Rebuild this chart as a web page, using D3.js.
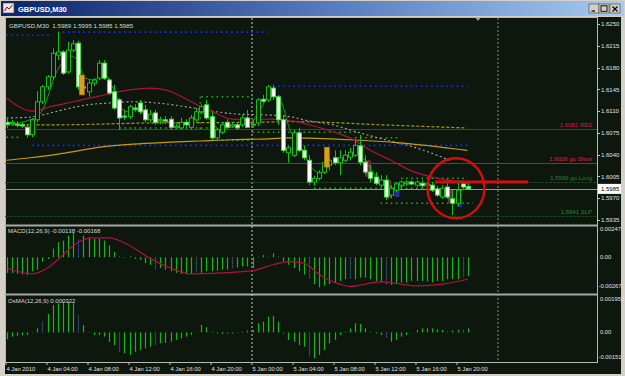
<!DOCTYPE html>
<html><head><meta charset="utf-8">
<script src="https://cdn.jsdelivr.net/npm/d3@7/dist/d3.min.js"></script>
<style>
body{margin:0;background:#d4d0c8;overflow:hidden}
svg{display:block;font-family:"Liberation Sans",Arial,sans-serif}
</style></head>
<body><svg id="c" width="625" height="376"></svg>
<script>
// ---------------- DATA ----------------
const timeLabels = ["4 Jan 2010","4 Jan 04:00","4 Jan 08:00","4 Jan 12:00","4 Jan 16:00","4 Jan 20:00",
  "5 Jan 00:00","5 Jan 04:00","5 Jan 08:00","5 Jan 12:00","5 Jan 16:00","5 Jan 20:00"];
const priceTicks = [1.6250,1.6215,1.6180,1.6145,1.6110,1.6075,1.6040,1.6005,1.5970,1.5935];
const opens = [1.6092,1.6091,1.6089,1.6088,1.6084,1.6072,1.6096,1.6125,1.6149,1.6165,
1.6200,1.6205,1.6173,1.6208,1.6219,1.6149,1.6141,1.6155,1.6163,1.6187,
1.6160,1.6141,1.6128,1.6102,1.6101,1.6115,1.6123,1.6112,1.6096,1.6107,
1.6094,1.6096,1.6097,1.6084,1.6083,1.6092,1.6084,1.6096,1.6109,1.6120,
1.6101,1.6067,1.6076,1.6092,1.6086,1.6088,1.6088,1.6099,1.6088,1.6091,
1.6129,1.6128,1.6147,1.6133,1.6096,1.6043,1.6039,1.6075,1.6047,1.6031,
1.5996,1.6002,1.6012,1.6023,1.6035,1.6027,1.6031,1.6036,1.6039,1.6054,
1.6028,1.6012,1.6004,1.5991,1.5999,1.5975,1.5983,1.5991,1.5994,1.5996,
1.5991,1.5994,1.5991,1.5991,1.5985,1.5972,1.5988,1.5969,1.5962,1.5993,1.5989];
const highs = [1.6099,1.6096,1.6094,1.6092,1.6089,1.6099,1.6142,1.6152,1.6168,1.6211,
1.6237,1.6208,1.6221,1.6224,1.6223,1.6154,1.6160,1.6163,1.6192,1.6192,
1.6163,1.6152,1.6131,1.6112,1.6120,1.6121,1.6128,1.6120,1.6112,1.6112,
1.6101,1.6102,1.6102,1.6089,1.6099,1.6097,1.6104,1.6115,1.6121,1.6128,
1.6109,1.6083,1.6092,1.6097,1.6092,1.6092,1.6104,1.6112,1.6096,1.6131,
1.6136,1.6152,1.6152,1.6136,1.6104,1.6055,1.6080,1.6083,1.6055,1.6039,
1.6006,1.6015,1.6031,1.6035,1.6047,1.6047,1.6047,1.6051,1.6063,1.6072,
1.6039,1.6023,1.6012,1.6007,1.6007,1.5991,1.5996,1.5999,1.5999,1.5999,
1.5999,1.5999,1.5996,1.5996,1.5990,1.5991,1.5999,1.5983,1.5999,1.5999,1.5995];
const lows = [1.6083,1.6088,1.6084,1.6083,1.6067,1.6068,1.6092,1.6121,1.6144,1.6160,
1.6192,1.6168,1.6170,1.6205,1.6144,1.6144,1.6133,1.6150,1.6160,1.6160,
1.6136,1.6112,1.6080,1.6096,1.6097,1.6109,1.6105,1.6092,1.6092,1.6088,
1.6089,1.6089,1.6080,1.6081,1.6080,1.6084,1.6080,1.6092,1.6105,1.6096,
1.6063,1.6062,1.6073,1.6083,1.6083,1.6080,1.6084,1.6083,1.6083,1.6086,
1.6123,1.6125,1.6128,1.6088,1.6043,1.6027,1.6036,1.6044,1.6031,1.5991,
1.5990,1.5999,1.6009,1.6015,1.6023,1.6007,1.6028,1.6031,1.6036,1.6023,
1.6007,1.5996,1.5991,1.5988,1.5967,1.5970,1.5980,1.5986,1.5990,1.5991,
1.5988,1.5986,1.5986,1.5980,1.5972,1.5969,1.5969,1.5943,1.5957,1.5983,1.5985];
const closes = [1.6089,1.6092,1.6088,1.6086,1.6072,1.6096,1.6125,1.6149,1.6165,1.6203,
1.6205,1.6171,1.6208,1.6218,1.6149,1.6147,1.6155,1.6160,1.6187,1.6163,
1.6139,1.6115,1.6099,1.6101,1.6117,1.6113,1.6109,1.6096,1.6105,1.6092,
1.6096,1.6094,1.6084,1.6086,1.6092,1.6088,1.6099,1.6109,1.6117,1.6099,
1.6067,1.6080,1.6088,1.6084,1.6088,1.6083,1.6099,1.6084,1.6089,1.6128,
1.6126,1.6149,1.6133,1.6096,1.6047,1.6051,1.6075,1.6047,1.6035,1.5996,
1.6002,1.6011,1.6027,1.6031,1.6027,1.6035,1.6039,1.6044,1.6055,1.6028,
1.6012,1.6002,1.5994,1.5999,1.5972,1.5986,1.5993,1.5996,1.5996,1.5993,
1.5996,1.5990,1.5993,1.5983,1.5975,1.5986,1.5972,1.5962,1.5983,1.5988,1.5985];

// moving averages read at control points: [bar index, price]
const maRed = [[0,1.6131],[5,1.6110],[8.5,1.6117],[13,1.6125],[18,1.6134],[24,1.6144],[28,1.6147],[31,1.6144],
  [34,1.6134],[37,1.6121],[40,1.6110],[44,1.6097],[47.5,1.6096],[51.4,1.6097],[56,1.6094],[60,1.6086],
  [64,1.6076],[67,1.6067],[71,1.6047],[75,1.6031],[79,1.6014],[83,1.6004],[87,1.5998],[90,1.5994]];
const maGray = [[0,1.6099],[4,1.6100],[7,1.6104],[11,1.6112],[15.7,1.6120],[20,1.6123],[24.7,1.6125],[29.4,1.6123],
  [35,1.6117],[40,1.6110],[45.6,1.6105],[50.4,1.6104],[55.3,1.6101],[59.2,1.6094],[63.1,1.6089],[69,1.6075],
  [74.8,1.6062],[78.7,1.6054],[86.5,1.6031]];
const maYellow = [[0,1.6088],[10,1.6088],[28,1.6091],[47.5,1.6092],[57,1.6093],[73,1.6088],[89.5,1.6083]];
const maGold = [[0,1.6031],[4.6,1.6035],[8.5,1.6039],[12.4,1.6044],[18.2,1.6052],[24.7,1.6057],[31.9,1.6060],
  [37.8,1.6062],[43.6,1.6064],[49.5,1.6065],[55.3,1.6067],[67,1.6064],[76.8,1.6059],[89.9,1.6047]];
const maFast = [[0,1.6088],[4.6,1.6096],[6,1.6101],[7.5,1.6120],[8.5,1.6144],[9.5,1.6168],[10.8,1.6187],[12.4,1.6199],
  [14,1.6189],[15.3,1.6163],[17.3,1.6160],[18.8,1.6176],[20.2,1.6157],[21.8,1.6128],[23.1,1.6109],[25.1,1.6112],
  [27,1.6105],[29,1.6099],[31.9,1.6092],[34.8,1.6089],[37.8,1.6109],[39.7,1.6096],[41.7,1.6080],[44.6,1.6086],
  [47.5,1.6091],[49.5,1.6112],[51.4,1.6136],[53.4,1.6128],[55.3,1.6080],[57.3,1.6055],[59.2,1.6023],[61.2,1.6011],
  [63.1,1.6023],[66,1.6035],[68,1.6044],[70,1.6031],[71.9,1.6007],[73.9,1.5994],[75.8,1.5986],[78.7,1.5993],
  [81.7,1.5994],[84.6,1.5980],[87.1,1.5967],[88.9,1.5983],[90,1.5986]];

// horizontal levels
const levelPrices = [1.6081,1.6026,1.5996,1.5941];
const levelNames = ["1.6081 RES","1.6026 go Short","1.5996 go Long","1.5941 SLP"];
const lastPrice = 1.5985;
// blue dotted ranges: [price, from bar, to bar]
const blueLevels = [[1.6232,0,9],[1.6237,10,51],[1.6150,52,90],[1.6055,5,90]];
// green dotted box segments: [price, from bar, to bar]
const greenLevels = [[1.6068,0,3],[1.6083,22,41],[1.6133,38,48],[1.6063,41,48],[1.6076,48,69],
  [1.6067,68,77],[1.5986,60,82],[1.5962,73,91],[1.6002,77,90]];
// signal boxes [bar, top, bottom]
const orangeBars = [[14.7,1.6168,1.6136],[62.5,1.6052,1.6020]];
const pinkBars = [[70.6,1.6031,1.6004],[74.6,1.5999,1.5970],[86.6,1.5983,1.5962]];
const navyBars = [[76.2,1.5996,1.5972],[88.4,1.5978,1.5956]];

// MACD(12,26,9)
const macdHist = [-0.00131,-0.00131,-0.00139,-0.00144,-0.00150,-0.00118,-0.00104,-0.00036,-0.00014,0.00073,
0.00127,0.00141,0.00182,0.00209,0.00155,0.00182,0.00168,0.00155,0.00155,0.00141,
0.00100,0.00046,0.00005,-0.00005,0.00008,-0.00014,-0.00020,-0.00049,-0.00063,-0.00104,
-0.00090,-0.00104,-0.00118,-0.00131,-0.00139,-0.00144,-0.00139,-0.00131,-0.00131,-0.00118,
-0.00118,-0.00112,-0.00104,-0.00104,-0.00090,-0.00085,-0.00077,-0.00077,-0.00090,0.00005,
0.00019,0.00005,0.00033,0.00005,-0.00036,-0.00063,-0.00090,-0.00118,-0.00144,-0.00185,
-0.00226,-0.00253,-0.00240,-0.00226,-0.00212,-0.00199,-0.00185,-0.00185,-0.00185,-0.00171,
-0.00171,-0.00185,-0.00199,-0.00212,-0.00226,-0.00232,-0.00226,-0.00212,-0.00212,-0.00199,
-0.00199,-0.00199,-0.00204,-0.00212,-0.00199,-0.00199,-0.00185,-0.00185,-0.00185,-0.00171,-0.00158];
const macdBlue = [14,29,37,44,59,67,74,89];
const macdSignal = [[0,-0.00090],[5,-0.00139],[8,-0.00090],[11,0.00019],[14,0.00127],[17,0.00163],[20,0.00163],
  [24,0.00100],[28,-0.00009],[32,-0.00090],[36,-0.00139],[42,-0.00131],[48,-0.00112],[52,-0.00063],[55,-0.00036],
  [58,-0.00049],[61,-0.00144],[65,-0.00226],[67,-0.00245],[73,-0.00207],[77,-0.00226],[80,-0.00240],[85,-0.00226],[90,-0.00185]];
const macdTicks = [0.00247,0.00,-0.00267];
const macdTickText = ["0.00247","0.00","-0.00267"];

// OsMA(12,26,9)
const osma = [-0.00039,-0.00024,-0.00020,-0.00017,-0.00015,-0.00002,0.00023,0.00061,0.00105,0.00156,
0.00165,0.00174,0.00174,0.00165,0.00099,0.00042,-0.00002,-0.00015,-0.00015,-0.00024,
-0.00053,-0.00072,-0.00110,-0.00119,-0.00128,-0.00110,-0.00100,-0.00090,-0.00081,-0.00072,
-0.00062,-0.00059,-0.00053,-0.00043,-0.00034,-0.00024,-0.00015,-0.00002,0.00042,0.00029,
0.00004,-0.00006,-0.00009,-0.00006,-0.00006,-0.00002,0.00004,0.00010,0.00014,0.00052,
0.00061,0.00089,0.00093,0.00061,-0.00006,-0.00043,-0.00053,-0.00072,-0.00081,-0.00138,
-0.00147,-0.00128,-0.00100,-0.00062,-0.00043,-0.00015,0.00004,0.00023,0.00052,0.00048,
0.00023,0.00004,-0.00006,-0.00015,-0.00034,-0.00053,-0.00043,-0.00024,-0.00015,-0.00002,
0.00014,0.00023,0.00023,0.00023,0.00018,0.00014,0.00004,0.00010,0.00014,0.00018,0.00023];
const osmaBlue = [7,14,22,29,59,74,89];
const osmaTicks = [0.001952,0.00,-0.00151];
const osmaTickText = ["0.001952","0.00","-0.00151"];

// ---------------- LAYOUT ----------------
const svg = d3.select("#c");
const L = 5, R = 597, CR = 621, CB = 374;
const P = {main:[18,224], macd:[227,292], osma:[296,362]};
const BG = "#0e170e";

const x = d3.scaleLinear().domain([0,90]).range([6.5, 6.5 + 90*5.125]);
const y = d3.scaleLinear().domain([1.5935,1.6250]).range([220,24]);
const ym = d3.scaleLinear().domain([-0.00267,0.00247]).range([289,228]);
const yo = d3.scaleLinear().domain([-0.00151,0.001952]).range([359,298]);

// window chrome
const defs = svg.append("defs");
const g1 = defs.append("linearGradient").attr("id","tb").attr("x1",0).attr("x2",1);
g1.append("stop").attr("offset",0).attr("stop-color","#0a246a");
g1.append("stop").attr("offset",0.55).attr("stop-color","#5a7fc0");
g1.append("stop").attr("offset",1).attr("stop-color","#a6caf0");
for (const id of ["cm","cs","co"]) defs.append("clipPath").attr("id",id);
d3.select("#cm").append("rect").attr("x",L).attr("y",P.main[0]).attr("width",R-L).attr("height",P.main[1]-P.main[0]);
d3.select("#cs").append("rect").attr("x",L).attr("y",P.macd[0]).attr("width",R-L).attr("height",P.macd[1]-P.macd[0]);
d3.select("#co").append("rect").attr("x",L).attr("y",P.osma[0]).attr("width",R-L).attr("height",P.osma[1]-P.osma[0]);

svg.append("rect").attr("width",625).attr("height",376).attr("fill","#d4d0c8");
svg.append("rect").attr("x",1).attr("y",1).attr("width",623).attr("height",15).attr("fill","url(#tb)");
// icon
svg.append("rect").attr("x",3).attr("y",3).attr("width",11).attr("height",10).attr("fill","#e8e8e8").attr("stroke","#404040").attr("stroke-width",0.6);
svg.append("path").attr("d","M4.5,11 L7,7 L9,9 L12.5,5").attr("stroke","#c00000").attr("fill","none").attr("stroke-width",1);
svg.append("text").attr("x",18).attr("y",12).attr("fill","#ffffff").attr("font-weight","bold").attr("font-size",7.5).text("GBPUSD,M30");
// buttons
[[589,"min"],[599,"max"],[610,"close"]].forEach(([bx,t])=>{
  svg.append("rect").attr("x",bx).attr("y",4).attr("width",10).attr("height",9).attr("fill","#d4d0c8")
    .attr("stroke","#404040").attr("stroke-width",0.6);
  if(t==="min") svg.append("line").attr("x1",bx+2.5).attr("x2",bx+6).attr("y1",11).attr("y2",11).attr("stroke","#000").attr("stroke-width",1.2);
  if(t==="max") svg.append("rect").attr("x",bx+2).attr("y",5.8).attr("width",6).attr("height",5.5).attr("fill","none").attr("stroke","#000").attr("stroke-width",0.9);
  if(t==="close") svg.append("path").attr("d",`M${bx+2.5},6.5 L${bx+7.5},11.5 M${bx+7.5},6.5 L${bx+2.5},11.5`).attr("stroke","#000").attr("stroke-width",1.2);
});

// chart background
svg.append("rect").attr("x",L).attr("y",17).attr("width",CR-L).attr("height",CB-17).attr("fill",BG);

// pane borders
const borderCol = "#b8b8b8";
svg.append("line").attr("x1",L).attr("x2",R).attr("y1",17.5).attr("y2",17.5).attr("stroke",borderCol);
svg.append("line").attr("x1",L+0.5).attr("x2",L+0.5).attr("y1",17).attr("y2",P.osma[1]).attr("stroke",borderCol);
svg.append("line").attr("x1",R+0.5).attr("x2",R+0.5).attr("y1",17).attr("y2",P.osma[1]).attr("stroke",borderCol);
svg.append("rect").attr("x",L).attr("y",224.5).attr("width",R-L+1).attr("height",2).attr("fill","#a8a8a8");
svg.append("rect").attr("x",L).attr("y",293.5).attr("width",R-L+1).attr("height",2).attr("fill","#a8a8a8");
svg.append("line").attr("x1",L).attr("x2",R+1).attr("y1",P.osma[1]+0.5).attr("y2",P.osma[1]+0.5).attr("stroke",borderCol);

// vertical dashed separators
const sepIdx = [48];
svg.selectAll(".vsep").data(sepIdx).join("line").attr("x1",d=>x(d)-0.5).attr("x2",d=>x(d)-0.5)
  .attr("y1",18).attr("y2",P.osma[1]).attr("stroke","#c8c8c8").attr("stroke-dasharray","2,2").attr("stroke-width",1);
const shiftIdx = 95.9;
svg.append("line").attr("x1",x(shiftIdx)).attr("x2",x(shiftIdx)).attr("y1",18).attr("y2",P.osma[1])
  .attr("stroke","#8a8a8a").attr("stroke-dasharray","2,2");
svg.append("path").attr("d",`M${x(92)-2.5},18 L${x(92)+2.5},18 L${x(92)},21 Z`).attr("fill","#9a9a9a");

// ---------------- MAIN PANE ----------------
const gm = svg.append("g").attr("clip-path","url(#cm)");
const lvlLineCol = ["#7d1a6e","#c41818","#0f4a12","#0f4a12"];
const lvlTextCol = ["#e0104a","#e81a3c","#1e8a2a","#1e8a2a"];
levelPrices.forEach((p,i)=>{
  gm.append("line").attr("x1",L).attr("x2",R).attr("y1",Math.round(y(p))+0.5).attr("y2",Math.round(y(p))+0.5)
    .attr("stroke",lvlLineCol[i]).attr("stroke-width",i===1?1.2:1).attr("stroke-dasharray",i>=2?"3,1":null);
  gm.append("text").attr("x",592).attr("y",y(p)-2).attr("text-anchor","end").attr("font-size",6)
    .attr("fill",lvlTextCol[i]).text(levelNames[i]);
});
gm.append("line").attr("x1",L).attr("x2",R).attr("y1",Math.round(y(lastPrice))+0.5).attr("y2",Math.round(y(lastPrice))+0.5)
  .attr("stroke","#8a98a0").attr("stroke-width",1);

// dotted levels
blueLevels.forEach(([p,a,b])=>gm.append("line").attr("x1",x(a)).attr("x2",x(b)).attr("y1",y(p)).attr("y2",y(p))
  .attr("stroke","#1a2cff").attr("stroke-width",1.6).attr("stroke-dasharray","1.6,3.5"));
greenLevels.forEach(([p,a,b])=>gm.append("line").attr("x1",x(a)).attr("x2",x(b)).attr("y1",y(p)).attr("y2",y(p))
  .attr("stroke","#20b020").attr("stroke-width",1.5).attr("stroke-dasharray","1.5,3.6"));
gm.append("line").attr("x1",x(37.8)).attr("x2",x(37.8)).attr("y1",y(1.6133)).attr("y2",y(1.6080))
  .attr("stroke","#20b020").attr("stroke-width",1.3).attr("stroke-dasharray","1.5,3.6");

// MAs
const ln = d3.line().x(d=>x(d[0])).y(d=>y(d[1])).curve(d3.curveMonotoneX);
gm.append("path").attr("d",ln(maGold)).attr("fill","none").attr("stroke","#c89a10").attr("stroke-width",1.2);
gm.append("path").attr("d",ln(maYellow)).attr("fill","none").attr("stroke","#a89a10").attr("stroke-width",1.2).attr("stroke-dasharray","3,2");
gm.append("path").attr("d",ln(maGray)).attr("fill","none").attr("stroke","#a8a8a0").attr("stroke-width",1.1).attr("stroke-dasharray","2,2.5");
gm.append("path").attr("d",ln(maRed)).attr("fill","none").attr("stroke","#b01040").attr("stroke-width",1.2);

// shaded signal bars
pinkBars.forEach(([i,t,b])=>gm.append("rect").attr("x",x(i)-2.5).attr("y",y(t)).attr("width",5).attr("height",y(b)-y(t)).attr("fill","#8a1a48"));
navyBars.forEach(([i,t,b])=>gm.append("rect").attr("x",x(i)-2.5).attr("y",y(t)).attr("width",5).attr("height",y(b)-y(t)).attr("fill","#2430a0"));

// fast MA
gm.append("path").attr("d",ln(maFast)).attr("fill","none").attr("stroke","#10a010").attr("stroke-width",1);

// candles
const bars = d3.range(opens.length);
gm.selectAll(".wick").data(bars).join("line")
  .attr("x1",i=>Math.round(x(i))+0.5).attr("x2",i=>Math.round(x(i))+0.5)
  .attr("y1",i=>y(highs[i])).attr("y2",i=>y(lows[i])).attr("stroke","#12c012").attr("stroke-width",1);
gm.selectAll(".body").data(bars).join("rect")
  .attr("x",i=>Math.round(x(i))-1.5).attr("width",4)
  .attr("y",i=>y(Math.max(opens[i],closes[i])))
  .attr("height",i=>Math.max(1,Math.abs(y(opens[i])-y(closes[i]))))
  .attr("fill",i=>closes[i]<opens[i]?"#ffffff":BG)
  .attr("stroke",i=>closes[i]<opens[i]?"#40e040":"#14c014").attr("stroke-width",1);

// orange signal candles
orangeBars.forEach(([i,t,b])=>gm.append("rect").attr("x",x(i)-2.5).attr("y",y(t)).attr("width",5).attr("height",y(b)-y(t))
  .attr("fill","#d9a020").attr("stroke","#b07010").attr("stroke-width",0.6));

// annotation: thick red line and circle
gm.append("line").attr("x1",x(83.6)).attr("x2",x(101.8)).attr("y1",y(1.5996)).attr("y2",y(1.5996))
  .attr("stroke","#d80c0c").attr("stroke-width",3);
gm.append("ellipse").attr("cx",x(87.7)).attr("cy",y(1.5986)).attr("rx",28.5).attr("ry",30)
  .attr("fill","none").attr("stroke","#d80c0c").attr("stroke-width",2.4);

// header text
svg.append("text").attr("x",9).attr("y",28).attr("font-size",6.2).attr("fill","#d8d8d8")
  .attr("xml:space","preserve").text("GBPUSD,M30  1.5989 1.5995 1.5985 1.5985");

// price axis
svg.selectAll(".pt").data(priceTicks).join("line").attr("x1",R).attr("x2",R+3)
  .attr("y1",d=>Math.round(y(d))+0.5).attr("y2",d=>Math.round(y(d))+0.5).attr("stroke","#c0c0c0");
svg.selectAll(".pl").data(priceTicks).join("text").attr("x",601).attr("y",d=>y(d)+2.2)
  .attr("font-size",6).attr("fill","#e0e0e0").text(d=>d.toFixed(4));
svg.append("rect").attr("x",598).attr("y",y(lastPrice)-5).attr("width",23).attr("height",10).attr("fill","#ffffff");
svg.append("text").attr("x",601).attr("y",y(lastPrice)+2.2).attr("font-size",6).attr("fill","#000").text(lastPrice.toFixed(4));

// ---------------- MACD PANE ----------------
const gs = svg.append("g").attr("clip-path","url(#cs)");
gs.selectAll(".mh").data(bars).join("line")
  .attr("x1",i=>Math.round(x(i))+0.5).attr("x2",i=>Math.round(x(i))+0.5)
  .attr("y1",ym(0)).attr("y2",i=>ym(macdHist[i]))
  .attr("stroke",i=>macdBlue.includes(i)?"#4a6ad0":"#14b814")
  .attr("stroke-width",1.2).attr("stroke-dasharray",i=>macdBlue.includes(i)?"1,1":null);
const lm = d3.line().x(d=>x(d[0])).y(d=>ym(d[1])).curve(d3.curveMonotoneX);
gs.append("path").attr("d",lm(macdSignal)).attr("fill","none").attr("stroke","#b01040").attr("stroke-width",1.2);
svg.append("text").attr("x",8).attr("y",233).attr("font-size",6).attr("fill","#d8d8d8").text("MACD(12,26,9) -0.00138 -0.00168");
macdTicks.forEach((v,i)=>{
  const yy = i===0?231:(i===2?288:ym(v)+2);
  svg.append("text").attr("x",i===2?598.5:600).attr("y",yy).attr("font-size",5.8).attr("fill","#e0e0e0").text(macdTickText[i]);
});

// ---------------- OsMA PANE ----------------
const go = svg.append("g").attr("clip-path","url(#co)");
go.selectAll(".oh").data(bars).join("line")
  .attr("x1",i=>Math.round(x(i))+0.5).attr("x2",i=>Math.round(x(i))+0.5)
  .attr("y1",yo(0)).attr("y2",i=>yo(osma[i]))
  .attr("stroke",i=>osmaBlue.includes(i)?"#4a6ad0":"#14b814")
  .attr("stroke-width",1.2).attr("stroke-dasharray",i=>osmaBlue.includes(i)?"1,1":null);
svg.append("text").attr("x",8).attr("y",303).attr("font-size",6).attr("fill","#d8d8d8").text("OsMA(12,26,9) 0.000322");
osmaTicks.forEach((v,i)=>{
  const yy = i===0?301:(i===2?359:yo(v)+2);
  svg.append("text").attr("x",i===2?598.5:600).attr("y",yy).attr("font-size",5.8).attr("fill","#e0e0e0").text(osmaTickText[i]);
});

// ---------------- TIME AXIS ----------------
const tIdx = timeLabels.map((_,k)=>k*8);
svg.selectAll(".tt").data(tIdx).join("line").attr("x1",d=>x(d)-0.5).attr("x2",d=>x(d)-0.5)
  .attr("y1",P.osma[1]).attr("y2",P.osma[1]+3).attr("stroke","#c0c0c0");
svg.selectAll(".tl").data(tIdx).join("text").attr("x",d=>x(d)).attr("y",370.5)
  .attr("font-size",5.8).attr("fill","#e0e0e0").text((d,k)=>timeLabels[k]);
</script></body></html>
